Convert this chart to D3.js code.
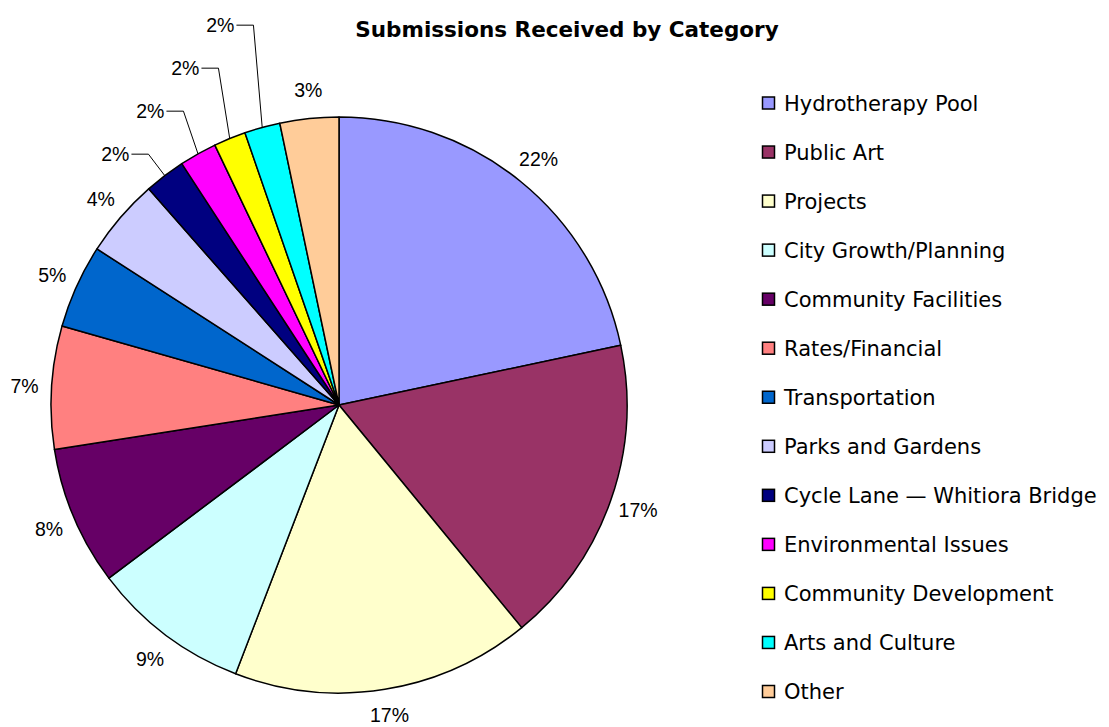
<!DOCTYPE html>
<html>
<head>
<meta charset="utf-8">
<script src="https://cdn.jsdelivr.net/npm/d3@7"></script>
<style>
  html, body { margin: 0; padding: 0; background: #fff; }
  svg { display: block; }
</style>
</head>
<body>
<svg id="chart" width="1109" height="727"></svg>
<script>
const title = "Submissions Received by Category";
const categories = [
  "Hydrotherapy Pool", "Public Art", "Projects", "City Growth/Planning",
  "Community Facilities", "Rates/Financial", "Transportation", "Parks and Gardens",
  "Cycle Lane \u2014 Whitiora Bridge", "Environmental Issues", "Community Development",
  "Arts and Culture", "Other"
];
const shares = [21.7, 17.4, 16.8, 8.9, 7.8, 6.9, 4.7, 4.4, 2.3, 2.1, 1.8, 2.0, 3.3];
const colors = [
  "#9999FF", "#993366", "#FFFFCC", "#CCFFFF", "#660066", "#FF8080", "#0066CC",
  "#CCCCFF", "#000080", "#FF00FF", "#FFFF00", "#00FFFF", "#FFCC99"
];

const W = 1109, H = 727;
const svg = d3.select("#chart");
const cx = 339, cy = 405, r = 288;
const labelR = 317;
const total = d3.sum(shares);
const fmt = d3.format(".0%");

// Title
svg.append("text")
  .attr("x", 567).attr("y", 37)
  .attr("text-anchor", "middle")
  .attr("font-family", "DejaVu Sans")
  .attr("font-weight", "bold")
  .attr("font-size", 21.5)
  .attr("fill", "#000")
  .text(title);

const pie = d3.pie().sort(null).value(d => d);
const arcs = pie(shares);
const arc = d3.arc().innerRadius(0).outerRadius(r);

const g = svg.append("g").attr("transform", `translate(${cx},${cy})`);
g.selectAll("path.slice").data(arcs).enter().append("path")
  .attr("class", "slice")
  .attr("d", arc)
  .attr("fill", (d, i) => colors[i])
  .attr("stroke", "#000")
  .attr("stroke-width", 1.5)
  .attr("stroke-linejoin", "round");

// Labels
const pt = (a, rr) => [rr * Math.sin(a), -rr * Math.cos(a)];
const labelFont = { family: "Liberation Sans, Arial, sans-serif", size: 19.5 };
const leaderIdx = arcs.map((d, i) => i).filter(i => shares[i] / total < 0.025);
const stepX = 35, stepY = -43;
const maxBaseline = H - 5 - cy;

arcs.forEach((d, i) => {
  const mid = (d.startAngle + d.endAngle) / 2;
  const txt = fmt(shares[i] / total);
  const k = leaderIdx.indexOf(i);
  if (k < 0) {
    const [x, y] = pt(mid, labelR);
    g.append("text")
      .attr("x", x + (x < 0 ? 2 : 0)).attr("y", Math.min(y + 7.5, maxBaseline))
      .attr("text-anchor", "middle")
      .attr("font-family", labelFont.family)
      .attr("font-size", labelFont.size)
      .attr("fill", "#000")
      .text(txt);
  } else {
    const first = arcs[leaderIdx[0]];
    const firstMid = (first.startAngle + first.endAngle) / 2;
    const [ex0, ey0] = pt(firstMid, 315);
    const ex = ex0 + k * stepX, ey = ey0 + k * stepY;
    const [ax, ay] = pt(mid, r);
    g.append("polyline")
      .attr("points", `${ax},${ay} ${ex},${ey} ${ex - 17},${ey}`)
      .attr("fill", "none")
      .attr("stroke", "#000")
      .attr("stroke-width", 1);
    g.append("text")
      .attr("x", ex - 19).attr("y", ey + 7)
      .attr("text-anchor", "end")
      .attr("font-family", labelFont.family)
      .attr("font-size", labelFont.size)
      .attr("fill", "#000")
      .text(txt);
  }
});

// Legend
const legendY = d3.scalePoint().domain(d3.range(categories.length)).range([103, 691.5]);
const lg = svg.append("g");
categories.forEach((c, i) => {
  const y = legendY(i);
  lg.append("rect")
    .attr("x", 762.5).attr("y", y - 6)
    .attr("width", 12).attr("height", 12)
    .attr("fill", colors[i])
    .attr("stroke", "#000")
    .attr("stroke-width", 1.5);
  lg.append("text")
    .attr("x", 784).attr("y", y + 7.5)
    .attr("font-family", "DejaVu Sans")
    .attr("font-size", 21)
    .attr("fill", "#000")
    .text(c);
});
</script>
</body>
</html>
